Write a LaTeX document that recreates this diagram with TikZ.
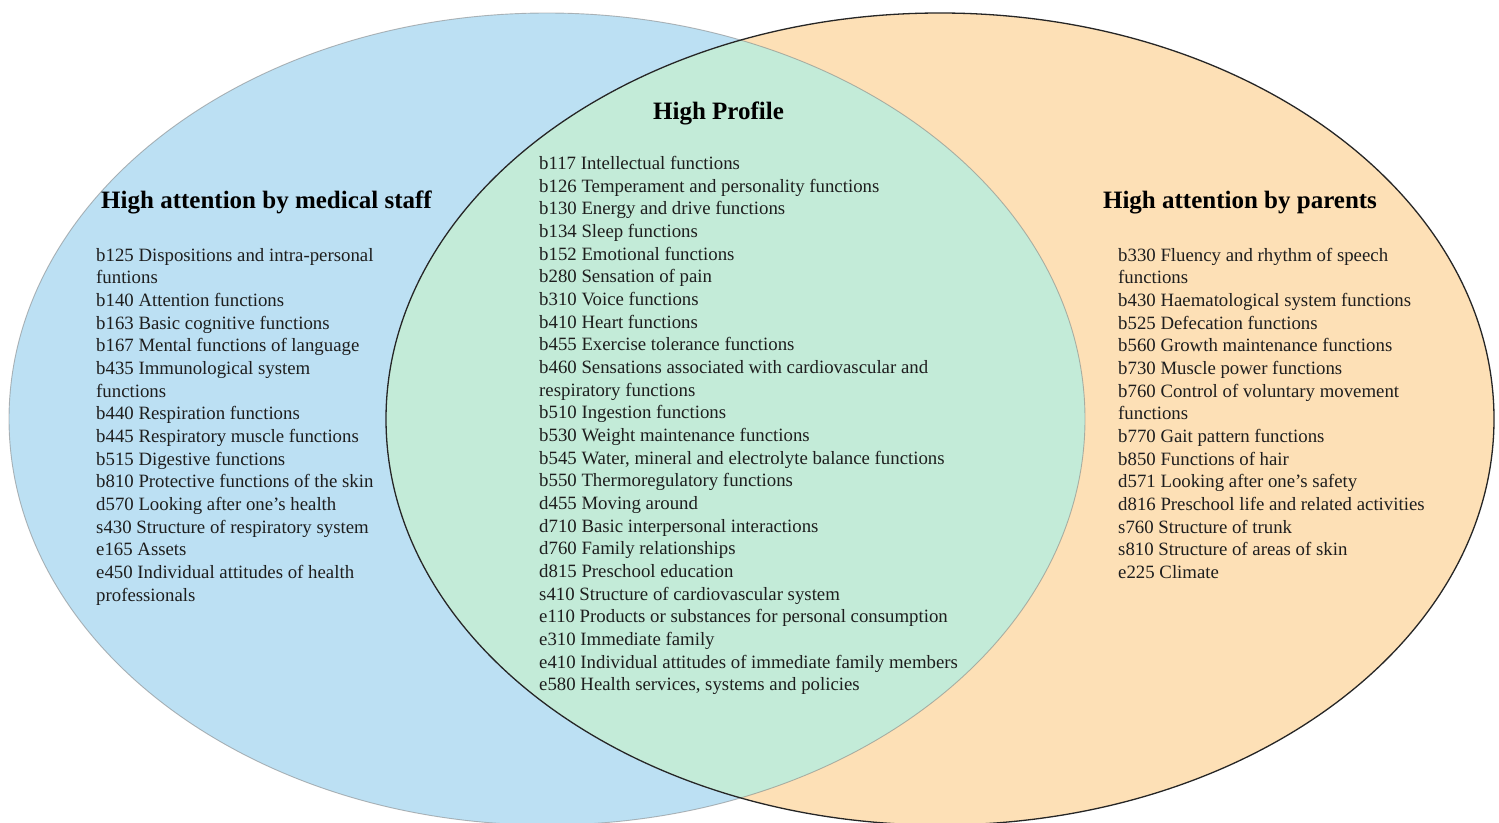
\documentclass[tikz,border=0pt]{standalone}
\usepackage{fontspec}
\setmainfont{Liberation Serif}
\definecolor{bluec}{HTML}{BCE0F3}
\definecolor{orangec}{HTML}{FDE0B6}
\definecolor{greenc}{HTML}{C3EBD8}
\definecolor{txtc}{HTML}{1E1E1E}
\begin{document}
\begin{tikzpicture}[x=1pt,y=-1pt,
  listtxt/.style={anchor=base west, inner sep=0pt, text=txtc, font=\fontsize{18.8}{22.67}\selectfont},
  titletxt/.style={anchor=base, inner sep=0pt, text=black, font=\bfseries\fontsize{25}{30}\selectfont}]
\useasboundingbox (0,0) rectangle (1499,822);
\fill[white] (0,0) rectangle (1499,822);
% sets
\fill[bluec] (547,419) ellipse [x radius=538pt, y radius=406pt];
\fill[orangec] (940,419) ellipse [x radius=554pt, y radius=406pt];
\begin{scope}
  \clip (547,419) ellipse [x radius=538pt, y radius=406pt];
  \fill[greenc] (940,419) ellipse [x radius=554pt, y radius=406pt];
\end{scope}
\draw[black!50, opacity=0.55, line width=0.9pt] (547,419) ellipse [x radius=538pt, y radius=406pt];
\draw[black!85, line width=1.3pt] (940,419) ellipse [x radius=554pt, y radius=406pt];
% titles
\node[titletxt] (tleft) at (266.5,208) {High attention by medical staff};
\node[titletxt] (tmid) at (718.5,119) {High Profile};
\node[titletxt] (tright) at (1240,208) {High attention by parents};
% left list
\foreach \t [count=\i from 0] in {
  {b125 Dispositions and intra-personal},
  {funtions},
  {b140 Attention functions},
  {b163 Basic cognitive functions},
  {b167 Mental functions of language},
  {b435 Immunological system},
  {functions},
  {b440 Respiration functions},
  {b445 Respiratory muscle functions},
  {b515 Digestive functions},
  {b810 Protective functions of the skin},
  {d570 Looking after one’s health},
  {s430 Structure of respiratory system},
  {e165 Assets},
  {e450 Individual attitudes of health},
  {professionals}}
  \node[listtxt] (l\i) at (96,{261+\i*22.67}) {\t};
% middle list
\foreach \t [count=\i from 0] in {
  {b117 Intellectual functions},
  {b126 Temperament and personality functions},
  {b130 Energy and drive functions},
  {b134 Sleep functions},
  {b152 Emotional functions},
  {b280 Sensation of pain},
  {b310 Voice functions},
  {b410 Heart functions},
  {b455 Exercise tolerance functions},
  {b460 Sensations associated with cardiovascular and},
  {respiratory functions},
  {b510 Ingestion functions},
  {b530 Weight maintenance functions},
  {b545 Water, mineral and electrolyte balance functions},
  {b550 Thermoregulatory functions},
  {d455 Moving around},
  {d710 Basic interpersonal interactions},
  {d760 Family relationships},
  {d815 Preschool education},
  {s410 Structure of cardiovascular system},
  {e110 Products or substances for personal consumption},
  {e310 Immediate family},
  {e410 Individual attitudes of immediate family members},
  {e580 Health services, systems and policies}}
  \node[listtxt] (m\i) at (539,{169.5+\i*22.67}) {\t};
% right list
\foreach \t [count=\i from 0] in {
  {b330 Fluency and rhythm of speech},
  {functions},
  {b430 Haematological system functions},
  {b525 Defecation functions},
  {b560 Growth maintenance functions},
  {b730 Muscle power functions},
  {b760 Control of voluntary movement},
  {functions},
  {b770 Gait pattern functions},
  {b850 Functions of hair},
  {d571 Looking after one’s safety},
  {d816 Preschool life and related activities},
  {s760 Structure of trunk},
  {s810 Structure of areas of skin},
  {e225 Climate}}
  \node[listtxt] (r\i) at (1118,{261+\i*22.67}) {\t};
\end{tikzpicture}
\end{document}
